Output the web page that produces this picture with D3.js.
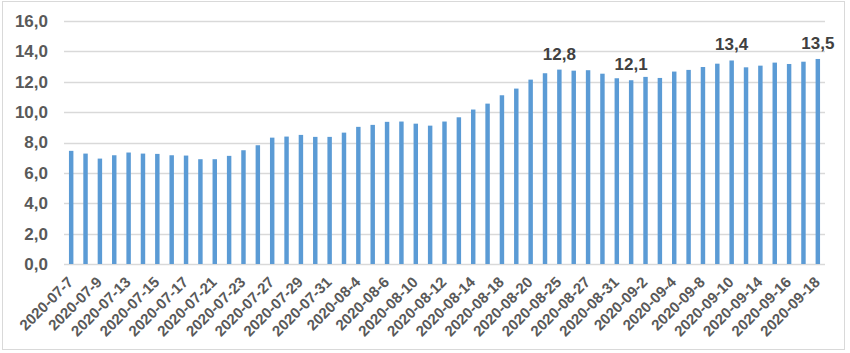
<!DOCTYPE html>
<html>
<head>
<meta charset="utf-8">
<script src="https://cdn.jsdelivr.net/npm/d3@7"></script>
<style>
  html, body { margin: 0; padding: 0; background: #fff; }
  svg { display: block; }
  text { font-family: "Liberation Sans", Arial, sans-serif; font-weight: bold; }
</style>
</head>
<body>
<svg id="chart" width="850" height="353"></svg>
<script>
const dates = [
  "2020-07-7","2020-07-8","2020-07-9","2020-07-10","2020-07-13","2020-07-14","2020-07-15","2020-07-16","2020-07-17",
  "2020-07-20","2020-07-21","2020-07-22","2020-07-23","2020-07-24","2020-07-27","2020-07-28","2020-07-29","2020-07-30","2020-07-31",
  "2020-08-3","2020-08-4","2020-08-5","2020-08-6","2020-08-7","2020-08-10","2020-08-11","2020-08-12","2020-08-13","2020-08-14",
  "2020-08-17","2020-08-18","2020-08-19","2020-08-20","2020-08-21","2020-08-25","2020-08-26","2020-08-27","2020-08-28","2020-08-31",
  "2020-09-1","2020-09-2","2020-09-3","2020-09-4","2020-09-7","2020-09-8","2020-09-9","2020-09-10","2020-09-11",
  "2020-09-14","2020-09-15","2020-09-16","2020-09-17","2020-09-18"
];
const values = [
  7.45, 7.27, 6.94, 7.16, 7.34, 7.27, 7.25, 7.16, 7.14,
  6.90, 6.90, 7.12, 7.49, 7.82, 8.32, 8.39, 8.50, 8.37, 8.37,
  8.65, 9.03, 9.16, 9.36, 9.38, 9.24, 9.11, 9.38, 9.66, 10.17,
  10.56, 11.11, 11.55, 12.14, 12.56, 12.8, 12.73, 12.76, 12.53, 12.23,
  12.1, 12.32, 12.25, 12.67, 12.78, 12.97, 13.19, 13.4, 12.95,
  13.06, 13.26, 13.17, 13.32, 13.5
];
const tickLabels = dates.filter((d, i) => i % 2 === 0);
const yTicks = [0, 2, 4, 6, 8, 10, 12, 14, 16];
const labeledDates = ["2020-08-25", "2020-09-1", "2020-09-10", "2020-09-18"];

const svg = d3.select("#chart");
const W = 850, H = 353;
const margin = { left: 64, right: 25, top: 21, bottom: 89 };

// outer border
svg.append("rect")
  .attr("x", 2.5).attr("y", 1.5)
  .attr("width", 842).attr("height", 348)
  .attr("fill", "#fff").attr("stroke", "#d9d9d9").attr("stroke-width", 1);

const x = d3.scaleBand()
  .domain(dates)
  .range([margin.left, W - margin.right])
  .paddingInner(0.69).paddingOuter(0.345);

const y = d3.scaleLinear()
  .domain([0, 16])
  .range([H - margin.bottom, margin.top]);

// gridlines
svg.append("g")
  .selectAll("line")
  .data(yTicks)
  .join("line")
  .attr("x1", margin.left).attr("x2", W - margin.right)
  .attr("y1", d => Math.round(y(d)) + 0.5).attr("y2", d => Math.round(y(d)) + 0.5)
  .attr("stroke", "#d9d9d9").attr("stroke-width", 1.3);

// y axis
const yAxis = d3.axisLeft(y)
  .tickValues(yTicks)
  .tickSize(0)
  .tickPadding(16)
  .tickFormat(d => d3.format(".1f")(d).replace(".", ","));
const gy = svg.append("g")
  .attr("transform", `translate(${margin.left},0)`)
  .call(yAxis);
gy.select(".domain").remove();
gy.selectAll("text")
  .attr("fill", "#595959")
  .style("font-size", "17px");

// bars
svg.append("g")
  .selectAll("rect")
  .data(values)
  .join("rect")
  .attr("x", (d, i) => x(dates[i]))
  .attr("width", x.bandwidth())
  .attr("y", d => y(d))
  .attr("height", d => y(0) - y(d))
  .attr("fill", "#5b9bd5");

// x axis
const xAxis = d3.axisBottom(x)
  .tickValues(tickLabels)
  .tickSize(0)
  .tickFormat(d => d);
const gx = svg.append("g")
  .attr("transform", `translate(0,${y(0)})`)
  .call(xAxis);
gx.select(".domain").remove();
gx.selectAll("text")
  .attr("fill", "#595959")
  .style("font-size", "15px")
  .attr("text-anchor", "end")
  .attr("dy", null)
  .attr("y", 0)
  .attr("transform", "translate(3,19) rotate(-45)");

// data labels
svg.append("g")
  .selectAll("text")
  .data(labeledDates)
  .join("text")
  .attr("x", d => x(d) + x.bandwidth() / 2)
  .attr("y", d => y(values[dates.indexOf(d)]) - 10)
  .attr("text-anchor", "middle")
  .attr("fill", "#404040")
  .style("font-size", "17px")
  .text(d => d3.format(".1f")(values[dates.indexOf(d)]).replace(".", ","));
</script>
</body>
</html>
